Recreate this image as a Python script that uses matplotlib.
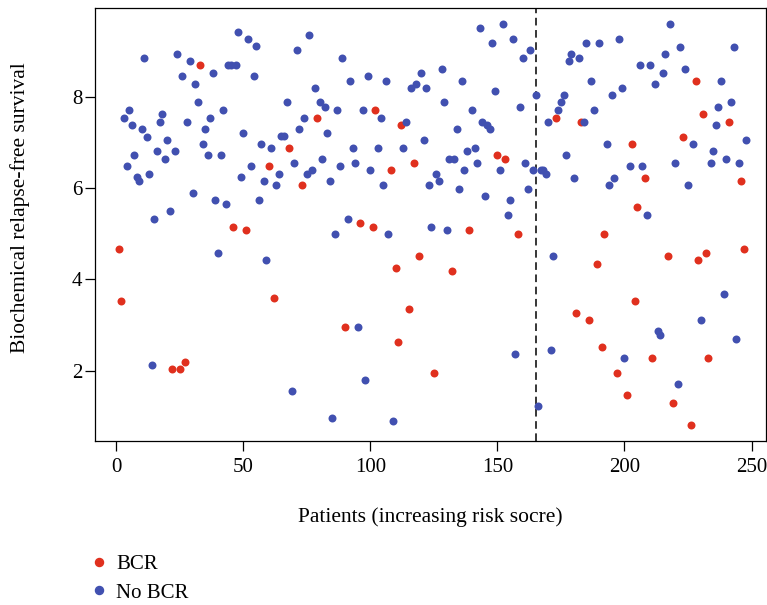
import matplotlib
matplotlib.use("Agg")
import matplotlib.pyplot as plt
import numpy as np
from matplotlib.lines import Line2D

plt.rcParams['font.family'] = ['Liberation Serif', 'DejaVu Serif']

# biochemical relapse-free survival per patient, ordered by risk score
survival = [
    4.67, 3.52, 7.54, 6.48, 7.71, 7.38, 6.72, 6.24, 6.15, 7.30,
    8.86, 7.13, 6.31, 2.13, 5.33, 6.81, 7.46, 7.63, 6.64, 7.05,
    5.49, 2.04, 6.81, 8.94, 2.04, 8.45, 2.20, 7.46, 8.78, 5.90,
    8.29, 7.88, 8.70, 6.97, 7.30, 6.72, 7.54, 8.53, 5.74, 4.59,
    6.72, 7.71, 5.65, 8.69, 8.69, 5.16, 8.69, 9.43, 6.24, 7.22,
    5.08, 9.27, 6.48, 8.45, 9.11, 5.74, 6.97, 6.15, 4.42, 6.48,
    6.89, 3.60, 6.07, 6.31, 7.14, 7.14, 7.88, 6.89, 1.55, 6.56,
    9.02, 7.30, 6.07, 7.55, 6.31, 9.35, 6.40, 8.20, 7.55, 7.88,
    6.64, 7.79, 7.22, 6.15, 0.97, 5.00, 7.71, 6.48, 8.86, 2.95,
    5.33, 8.36, 6.89, 6.56, 2.95, 5.24, 7.71, 1.79, 8.45, 6.40,
    5.16, 7.71, 6.89, 7.55, 6.07, 8.36, 5.00, 6.40, 0.89, 4.26,
    2.62, 7.38, 6.89, 7.46, 3.36, 8.20, 6.56, 8.28, 4.51, 8.53,
    7.05, 8.20, 6.07, 5.16, 1.96, 6.31, 6.15, 8.61, 7.88, 5.08,
    6.64, 4.18, 6.64, 7.30, 5.98, 8.36, 6.40, 6.81, 5.08, 7.71,
    6.89, 6.56, 9.52, 7.46, 5.82, 7.38, 7.30, 9.19, 8.12, 6.73,
    6.40, 9.59, 6.64, 5.41, 5.74, 9.27, 2.37, 5.00, 7.79, 8.86,
    6.56, 5.98, 9.02, 6.40, 8.04, 1.22, 6.40, 6.40, 6.31, 7.46,
    2.45, 4.51, 7.54, 7.71, 7.88, 8.04, 6.72, 8.78, 8.94, 6.23,
    3.27, 8.86, 7.46, 7.46, 9.19, 3.11, 8.36, 7.71, 4.34, 9.19,
    2.53, 5.00, 6.97, 6.07, 8.04, 6.23, 1.96, 9.27, 8.20, 2.29,
    1.47, 6.48, 6.97, 3.52, 5.58, 8.69, 6.48, 6.23, 5.41, 8.69,
    2.29, 8.28, 2.86, 2.78, 8.53, 8.94, 4.51, 9.59, 1.30, 6.56,
    1.71, 9.10, 7.13, 8.61, 6.07, 0.81, 6.97, 8.36, 4.42, 3.11,
    7.63, 4.59, 2.29, 6.56, 6.81, 7.38, 7.79, 8.36, 3.69, 6.64,
    7.46, 7.88, 9.10, 2.70, 6.56, 6.15, 4.67, 7.05,
]

# patient numbers with biochemical recurrence
bcr_patients = [
    1, 2, 22, 25, 27, 33, 46, 51, 60, 62, 68, 73, 79, 90, 96, 101, 102,
    108, 110, 111, 112, 115, 117, 119, 125, 132, 139, 150, 153, 158, 173,
    181, 183, 186, 189, 191, 192, 197, 201, 203, 204, 205, 208, 211, 217,
    219, 223, 226, 228, 229, 231, 232, 233, 241, 246, 247,
]

cutoff = 165
legend_labels = ["BCR", "No BCR"]
red = "#E0301E"
blue = "#4150B0"

patients = np.arange(1, len(survival) + 1)
survival = np.array(survival)
is_bcr = np.isin(patients, bcr_patients)

fig = plt.figure(figsize=(7.67, 6.05), dpi=100)
ax = fig.add_axes([95 / 767, 1 - 441 / 605, 671 / 767, 433 / 605])

ax.scatter(patients[is_bcr], survival[is_bcr], s=33, color=red, linewidths=0, zorder=3)
ax.scatter(patients[~is_bcr], survival[~is_bcr], s=33, color=blue, linewidths=0, zorder=3)
ax.axvline(cutoff, color="black", linestyle=(0, (5, 3)), linewidth=1.1)

ax.set_xlim(-8.4, 255.7)
ax.set_ylim(0.46, 9.95)
ax.set_xticks([0, 50, 100, 150, 200, 250])
ax.set_yticks([2, 4, 6, 8])
ax.tick_params(direction="out", length=7, width=0.9, labelsize=15)
ax.tick_params(axis="x", pad=5)
ax.tick_params(axis="y", pad=2)
for sp in ax.spines.values():
    sp.set_linewidth(0.9)

ax.set_xlabel("Patients (increasing risk socre)", fontsize=15.5)
ax.set_ylabel("Biochemical relapse-free survival", fontsize=15.5)
ax.xaxis.set_label_coords(0.5, -0.152)
ax.yaxis.set_label_coords(-0.097, 0.54)

handles = [
    Line2D([], [], marker="o", linestyle="", color=red, markersize=5.8),
    Line2D([], [], marker="o", linestyle="", color=blue, markersize=5.8),
]
fig.legend(handles, legend_labels, loc="upper left", bbox_to_anchor=(0.105, 0.097),
           frameon=False, fontsize=15, handletextpad=0.3, handlelength=1.0,
           labelspacing=0.42, borderaxespad=0)

fig.savefig("out.png", dpi=100)
